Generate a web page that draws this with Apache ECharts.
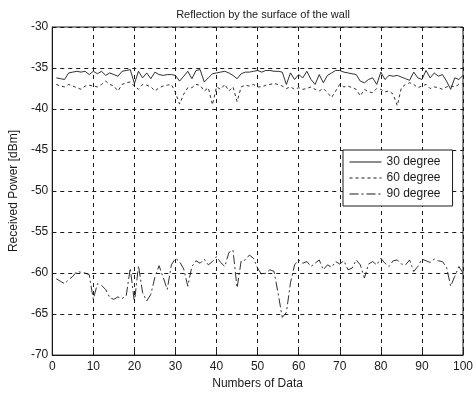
<!DOCTYPE html>
<html>
<head>
<meta charset="utf-8">
<script src="https://cdn.jsdelivr.net/npm/echarts@6/dist/echarts.min.js"></script>
<style>html,body{margin:0;padding:0;background:#fff}#c{width:476px;height:395px}</style>
</head>
<body>
<div id="c"></div>
<script>
const xIndex = Array.from({length: 100}, (_, i) => i + 1);
const seriesNames = ['30 degree', '60 degree', '90 degree'];
const xTicks = [0, 10, 20, 30, 40, 50, 60, 70, 80, 90, 100];
const yTicks = [-70, -65, -60, -55, -50, -45, -40, -35, -30];

const deg30 = [
 -36.2,-36.3,-36.4,-35.6,-35.5,-35.4,-35.5,-35.4,-35.8,-35.4,
 -35.7,-35.4,-35.9,-35.6,-35.8,-36.0,-35.4,-35.3,-35.2,-36.9,
 -35.4,-36.2,-35.6,-36.3,-35.5,-35.8,-35.9,-35.8,-35.8,-35.9,
 -36.6,-36.0,-35.4,-36.3,-35.3,-35.2,-36.7,-36.2,-35.7,-35.6,
 -35.5,-35.4,-35.6,-35.9,-36.3,-35.7,-35.5,-35.5,-35.4,-35.3,
 -35.5,-35.3,-35.3,-35.4,-35.4,-35.5,-37.0,-35.6,-36.4,-35.8,
 -36.2,-35.4,-36.4,-37.0,-35.8,-36.8,-35.9,-35.6,-35.3,-35.3,
 -35.5,-35.6,-35.7,-35.8,-36.6,-36.8,-36.4,-36.2,-37.0,-35.5,
 -36.4,-35.9,-36.0,-35.9,-36.1,-36.3,-36.5,-35.5,-36.2,-36.4,
 -35.3,-36.2,-35.6,-36.0,-35.8,-36.6,-37.6,-36.2,-36.4,-35.9
];
const deg60 = [
 -37.0,-37.2,-37.3,-37.0,-37.2,-37.4,-37.6,-37.2,-37.1,-37.2,
 -37.3,-37.0,-36.6,-37.0,-37.2,-37.8,-37.0,-36.8,-36.7,-37.2,
 -37.6,-37.0,-37.1,-37.3,-37.8,-37.4,-37.2,-37.1,-37.0,-38.0,
 -39.4,-38.2,-37.4,-37.4,-37.0,-37.1,-37.8,-37.4,-39.5,-37.3,
 -37.6,-37.0,-37.8,-37.3,-39.1,-37.3,-37.1,-37.2,-37.0,-37.3,
 -37.3,-37.1,-37.0,-36.9,-37.0,-37.2,-37.5,-37.3,-37.6,-37.4,
 -37.6,-37.5,-37.3,-37.6,-37.8,-37.5,-38.0,-38.6,-37.8,-37.0,
 -37.3,-37.2,-37.4,-37.6,-38.4,-37.6,-37.9,-38.0,-37.5,-37.6,
 -37.9,-37.8,-38.2,-39.6,-37.4,-37.0,-36.8,-37.0,-37.4,-37.2,
 -37.0,-37.5,-37.3,-37.4,-37.6,-37.3,-37.2,-37.3,-37.0,-36.9
];
const deg90 = [
 -60.7,-61.0,-61.3,-60.8,-60.4,-59.8,-59.9,-60.0,-60.2,-63.2,
 -61.3,-61.5,-62.0,-63.0,-63.2,-62.9,-63.1,-62.8,-59.4,-63.6,
 -59.1,-62.4,-63.4,-62.6,-60.5,-59.1,-60.5,-62.0,-59.0,-58.2,
 -58.6,-59.5,-61.6,-59.2,-58.5,-58.8,-58.3,-59.0,-58.6,-58.0,
 -58.7,-59.2,-57.5,-57.2,-61.8,-58.5,-58.4,-57.8,-58.2,-59.4,
 -60.2,-60.0,-59.6,-59.8,-62.5,-65.4,-64.8,-61.2,-59.0,-58.4,
 -58.8,-58.6,-59.2,-58.8,-58.4,-59.6,-59.0,-59.3,-58.6,-58.9,
 -58.5,-59.6,-59.4,-58.4,-59.0,-60.6,-58.9,-58.6,-59.0,-58.2,
 -58.8,-59.2,-58.5,-58.4,-58.9,-59.0,-58.4,-59.8,-59.2,-58.3,
 -58.5,-58.7,-58.3,-58.5,-58.6,-59.3,-61.6,-60.4,-59.2,-60.0
];

const font = 'Liberation Sans, Arial, sans-serif';
const ink = '#1a1a1a';
const pair = arr => xIndex.map((x, i) => [x, arr[i]]);

const chart = echarts.init(document.getElementById('c'), null, {renderer: 'canvas'});
chart.setOption({
  animation: false,
  backgroundColor: '#fff',
  title: {
    text: 'Reflection by the surface of the wall',
    left: 258, top: 4, textAlign: 'center',
    textStyle: {fontFamily: font, fontSize: 11, fontWeight: 'normal', color: ink}
  },
  legend: {
    orient: 'vertical', left: 343, top: 150,
    backgroundColor: '#fff', borderColor: ink, borderWidth: 1,
    padding: [6, 12, 6, 6], itemGap: 4, itemWidth: 32, itemHeight: 11,
    itemStyle: {opacity: 0},
    lineStyle: {width: 1},
    textStyle: {fontFamily: font, fontSize: 12, color: ink},
    data: seriesNames
  },
  grid: {left: 49, right: 10, top: 27, bottom: 36, show: true, borderColor: ink, borderWidth: 1},
  xAxis: {
    type: 'value', min: xTicks[0], max: xTicks[xTicks.length - 1], interval: 10,
    name: 'Numbers of Data', nameLocation: 'middle', nameGap: 20,
    nameTextStyle: {fontFamily: font, fontSize: 12, color: ink},
    axisLine: {show: true, lineStyle: {color: ink}},
    axisTick: {show: true, inside: true, length: 4, lineStyle: {color: ink}},
    axisLabel: {fontFamily: font, fontSize: 12, color: ink, margin: 6},
    splitLine: {show: true, lineStyle: {color: ink, type: [4, 4], width: 1}}
  },
  yAxis: {
    type: 'value', min: yTicks[0], max: yTicks[yTicks.length - 1], interval: 5,
    name: 'Received Power [dBm]', nameLocation: 'middle', nameGap: 30,
    nameTextStyle: {fontFamily: font, fontSize: 12, color: ink},
    axisLine: {show: true, lineStyle: {color: ink}},
    axisTick: {show: true, inside: true, length: 4, lineStyle: {color: ink}},
    axisLabel: {fontFamily: font, fontSize: 12, color: ink, margin: 4},
    splitLine: {show: true, lineStyle: {color: ink, type: [4, 4], width: 1}}
  },
  series: [
    {name: seriesNames[0], type: 'line', data: pair(deg30), showSymbol: false, symbol: 'none',
     lineStyle: {color: ink, width: 0.9, type: 'solid'}, itemStyle: {color: ink}},
    {name: seriesNames[1], type: 'line', data: pair(deg60), showSymbol: false, symbol: 'none',
     lineStyle: {color: ink, width: 0.9, type: [3, 3]}, itemStyle: {color: ink}},
    {name: seriesNames[2], type: 'line', data: pair(deg90), showSymbol: false, symbol: 'none',
     lineStyle: {color: ink, width: 0.9, type: [9, 3, 2, 3]}, itemStyle: {color: ink}}
  ]
});
</script>
</body>
</html>
